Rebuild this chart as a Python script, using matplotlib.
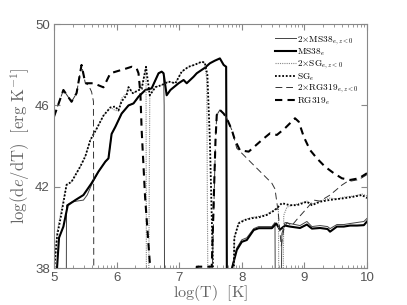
import numpy as np
import matplotlib
matplotlib.use("Agg")
import matplotlib.pyplot as plt
from matplotlib.ticker import FixedLocator

plt.rcParams["mathtext.fontset"] = "cm"
plt.rcParams["font.family"] = ["Liberation Sans", "DejaVu Sans"]

LOW = 30.0  # value below the axis (log of zero)

# MS38_e (thick solid)
ms_x = [5.03, 5.05, 5.08, 5.15, 5.22, 5.34, 5.47, 5.60, 5.71, 5.82, 5.87, 5.92, 5.98, 6.08,
        6.19, 6.27, 6.35, 6.46, 6.56, 6.67, 6.72, 6.75, 6.80, 6.86, 6.99, 7.07, 7.12, 7.23,
        7.28, 7.41, 7.49, 7.57, 7.65, 7.71, 7.75, 7.77, 7.80, 7.92, 8.00, 8.08, 8.19, 8.27,
        8.40, 8.48, 8.55, 8.61, 8.69, 8.77, 8.93, 9.04, 9.12, 9.25, 9.37, 9.41, 9.52, 9.63,
        9.73, 9.84, 9.95, 10.0]
ms_y = [37.0, 38.1, 39.5, 40.05, 41.1, 41.35, 41.6, 42.18, 42.75, 43.24, 43.4, 44.6, 44.95, 45.6,
        46.0, 46.1, 46.43, 46.76, 46.84, 47.58, 47.66, 47.58, 46.5, 46.76, 47.09, 47.25, 47.09, 47.41,
        47.58, 47.85, 48.07, 48.2, 48.31, 47.99, 47.9, LOW, 37.5, 38.9, 39.3, 39.39, 39.88, 39.97,
        39.97, 39.97, 40.2, 39.9, 40.1, 40.05, 39.98, 40.15, 39.95, 39.98, 39.93, 39.8, 40.05, 40.05,
        40.1, 40.1, 40.12, 40.3]

# 2 x MS38_e,z<0 (thin solid)
ms2_x = [5.19, 5.20, 5.28, 5.36, 5.47, 5.53, 5.60, 5.71, 5.82, 5.87, 5.92, 5.98, 6.08, 6.19,
         6.27, 6.35, 6.46, 6.56, 6.67, 6.72, 6.75, 6.76, 6.77, 7.80, 7.92, 8.00, 8.08, 8.19,
         8.27, 8.40, 8.48, 8.53, 8.545, 8.60, 8.64, 8.69, 8.77, 8.93, 9.04, 9.12, 9.25, 9.37,
         9.41, 9.52, 9.63, 9.73, 9.84, 9.95, 10.0]
ms2_y = [LOW, 41.1, 41.25, 41.3, 41.35, 41.6, 42.1, 42.75, 43.24, 43.4, 44.6, 44.95, 45.6, 46.0,
         46.1, 46.43, 46.76, 46.84, 47.58, 47.66, 47.58, 46.0, LOW, 37.5, 39.0, 39.4, 39.5, 39.95, 40.05,
         40.05, 40.05, 40.25, LOW, LOW, 39.7, 40.25, 40.2, 40.1, 40.3, 40.05, 40.1, 40.05,
         39.95, 40.15, 40.15, 40.2, 40.25, 40.3, 40.45]

# SG_e (thick dotted)
sg_x = [4.99, 5.05, 5.12, 5.20, 5.28, 5.42, 5.50, 5.58, 5.68, 5.79, 5.90, 5.98, 6.03, 6.08,
        6.16, 6.19, 6.26, 6.35, 6.40, 6.47, 6.49, 6.53, 6.62, 6.72, 6.83, 6.94, 7.04, 7.15,
        7.25, 7.36, 7.41, 7.45, 7.49, 7.54, 7.56, 7.84, 7.88, 7.95, 8.05, 8.16, 8.27, 8.40,
        8.53, 8.64, 8.77, 8.88, 9.04, 9.12, 9.25, 9.41, 9.52, 9.63, 9.79, 9.92, 10.0]
sg_y = [37.5, 39.6, 40.7, 42.1, 42.25, 43.0, 43.5, 44.3, 44.85, 45.5, 45.9, 45.95, 45.75, 46.2,
        46.5, 46.9, 46.6, 46.75, 46.8, 47.9, 47.4, 46.5, 46.9, 47.0, 47.17, 47.09, 47.66, 47.9,
        48.0, 48.15, 48.1, 47.5, 44.3, 38.0, LOW, LOW, 39.5, 40.21, 40.37, 40.46, 40.5, 40.62,
        40.86, 41.2, 41.1, 41.1, 41.27, 41.1, 41.27, 41.36, 41.4, 41.44, 41.52, 41.6, 41.45]

# 2 x SG_e,z<0 (thin dotted)
sg2_x = [4.99, 5.05, 5.12, 5.20, 5.28, 5.42, 5.50, 5.58, 5.68, 5.79, 5.90, 5.98, 6.03, 6.08,
         6.16, 6.19, 6.26, 6.35, 6.40, 6.47, 6.48, 6.50, 6.53, 6.62, 6.72, 6.83, 6.94, 7.04,
         7.15, 7.25, 7.36, 7.41, 7.44, 7.47, 7.84, 7.88, 7.95, 8.05, 8.16, 8.27, 8.40, 8.53,
         8.585, 8.60, 8.64, 8.67, 8.72, 8.80, 8.88, 9.04, 9.12, 9.25, 9.41, 9.52, 9.63, 9.79,
         9.92, 10.0]
sg2_y = [37.5, 39.8, 40.9, 42.1, 42.25, 43.0, 43.5, 44.3, 44.85, 45.5, 45.9, 45.75, 45.75, 46.35,
         46.6, 46.9, 46.6, 46.75, 46.9, 47.9, LOW, LOW, 46.5, 46.9, 47.0, 47.17, 47.09, 47.66,
         47.9, 48.0, 48.15, 48.07, 47.25, LOW, LOW, 39.5, 40.25, 40.4, 40.5, 40.55, 40.65, 40.9,
         41.0, LOW, LOW, 40.6, 41.0, 41.1, 41.15, 41.3, 41.15, 41.3, 41.45, 41.4, 41.5, 41.55,
         41.65, 41.55]

# RG319_e (thick dashed)
rg_x = [5.0, 5.15, 5.28, 5.36, 5.44, 5.50, 5.63, 5.79, 5.90, 6.16, 6.24, 6.32, 6.35, 6.38,
        6.40, 6.455, 6.535, 6.56, 7.26, 7.28, 7.52, 7.58, 7.60, 7.65, 7.71, 7.76, 7.84, 7.89,
        7.97, 8.11, 8.32, 8.45, 8.56, 8.69, 8.85, 8.91, 8.99, 9.09, 9.20, 9.33, 9.47, 9.60,
        9.73, 9.87, 10.0]
rg_y = [45.45, 46.76, 46.18, 46.6, 47.99, 47.09, 47.09, 46.89, 47.58, 47.82, 47.9, 47.82, 47.58, 46.6,
        44.8, 41.5, 38.08, LOW, LOW, 38.08, 38.08, 44.3, 45.53, 45.78, 45.6, 45.37, 44.8, 44.3,
        43.8, 43.73, 44.3, 44.63, 44.55, 44.88, 45.37, 45.2, 44.46, 43.81, 43.4, 42.99, 42.67, 42.42,
        42.34, 42.42, 42.67]

# 2 x RG319_e,z<0 (thin dashed)
rg2_x = [5.0, 5.15, 5.28, 5.36, 5.44, 5.50, 5.55, 5.60, 5.63, 5.64, 7.50, 7.53, 7.58, 7.60,
         7.65, 7.71, 7.76, 7.84, 7.92, 8.16, 8.32, 8.48, 8.53, 8.58, 8.63, 8.67, 8.72, 8.80,
         8.88, 9.04, 9.15, 9.25, 9.41, 9.60, 9.68, 9.84, 9.92, 10.0]
rg2_y = [45.45, 46.76, 46.18, 46.6, 47.99, 47.09, 47.0, 46.67, 46.2, LOW, LOW, 38.0, 44.3, 45.53,
         45.78, 45.6, 45.37, 44.8, 43.9, 43.16, 42.67, 42.18, 41.9, 40.8, 39.1, 39.9, 40.25, 40.1,
         40.4, 40.95, 41.35, 41.3, 41.6, 42.09, 42.25, 42.34, 42.45, 42.6]

labels = [r"$2{\times}\mathrm{MS38}_{e,z<0}$", r"$\mathrm{MS38}_{e}$",
          r"$2{\times}\mathrm{SG}_{e,z<0}$", r"$\mathrm{SG}_{e}$",
          r"$2{\times}\mathrm{RG319}_{e,z<0}$", r"$\mathrm{RG319}_{e}$"]

fig = plt.figure(figsize=(4.07, 3.05), dpi=100)
ax = fig.add_axes([0.1327, 0.1203, 0.769, 0.801])

ax.plot(ms2_x, ms2_y, color="#444444", lw=0.7, ls="-", label=labels[0])
ax.plot(ms_x, ms_y, color="black", lw=1.5, ls="-", label=labels[1])
ax.plot(sg2_x, sg2_y, color="#888888", lw=0.8, ls=(0, (1, 1)), label=labels[2])
ax.plot(sg_x, sg_y, color="black", lw=1.3, ls=(0, (1, 1)), label=labels[3])
ax.plot(rg2_x, rg2_y, color="#333333", lw=0.7, ls=(0, (7, 4)), label=labels[4])
ax.plot(rg_x, rg_y, color="black", lw=1.5, ls=(0, (3.5, 2.5)), label=labels[5])

ax.set_xlim(5, 10)
ax.set_ylim(38, 50)
ax.set_xticks([5, 6, 7, 8, 9, 10])
ax.set_yticks([38, 42, 46, 50])
minors = [d + np.log10(k) for d in range(5, 10) for k in range(2, 10)]
ax.xaxis.set_minor_locator(FixedLocator(minors))

for s in ax.spines.values():
    s.set_color("#888888")
    s.set_linewidth(0.8)
ax.tick_params(which="both", direction="in", top=True, right=True,
               colors="#888888", labelcolor="#555555", labelsize=9.5)
ax.tick_params(which="major", length=4, pad=3)
ax.tick_params(which="minor", length=2)

ax.set_xlabel(r"$\mathrm{log(T)\ \ [K]}$", fontsize=11.5, color="#666666", labelpad=-1)
ax.set_ylabel(r"$\mathrm{log(d}e\mathrm{/dT)\ \ [erg\ K}^{-1}\mathrm{]}$", fontsize=12,
              color="#666666", labelpad=2)

leg = ax.legend(loc="upper right", bbox_to_anchor=(0.985, 0.975), frameon=False, fontsize=6.7,
                handlelength=2.3, handletextpad=0.1, labelspacing=0.0, borderaxespad=0.0)

fig.savefig("out.png", dpi=100)
